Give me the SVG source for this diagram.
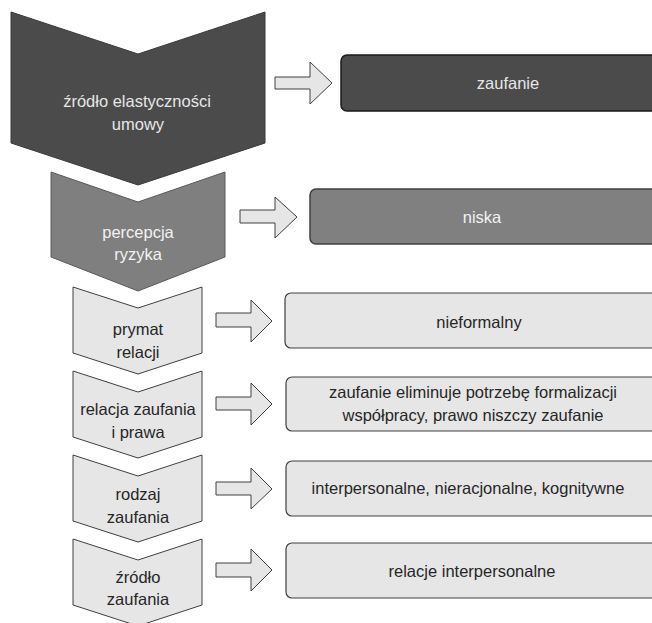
<svg xmlns="http://www.w3.org/2000/svg" width="652" height="623" viewBox="0 0 652 623">
<style>
text{font-family:"Liberation Sans",Arial,sans-serif;font-size:16.5px;text-anchor:middle;dominant-baseline:central}
.dark{fill:#4b4b4b;stroke:#3a3a3a;stroke-width:1}
.mid{fill:#7f7f7f;stroke:#5a5a5a;stroke-width:1}
.light{fill:#e6e6e6;stroke:#404040;stroke-width:1}
.bdark{fill:#4b4b4b;stroke:#1a1a1a;stroke-width:1.5}
.bmid{fill:#808080;stroke:#404040;stroke-width:1.5}
.blight{fill:#e6e6e6;stroke:#404040;stroke-width:1.2}
.arr{fill:#e6e6e6;stroke:#404040;stroke-width:1}
.tl{fill:#e6e6e6}
.tm{fill:#f2f2f2}
.td{fill:#262626}
</style>
<g id="connectors">
<path class="arr" d="M275,77 H310 V62 L332,83 L310,104 V89 H275 Z"/>
<path class="arr" d="M240,210 H275 V197 L297,217 L275,238 V223 H240 Z"/>
<path class="arr" d="M216,313 H251 V300 L272,321 L251,342 V327 H216 Z"/>
<path class="arr" d="M216,397 H251 V383 L272,404 L251,425 V410 H216 Z"/>
<path class="arr" d="M216,482 H251 V468 L272,489 L251,509 V495 H216 Z"/>
<path class="arr" d="M216,563 H251 V549 L272,570 L251,591 V577 H216 Z"/>
</g>
<g id="step1">
<path class="dark" d="M11,12 L138,54 L265,12 V143 L138,185 L11,143 Z"/>
<text class="tl" x="137" y="101">źródło elastyczności</text>
<text class="tl" x="138" y="124">umowy</text>
</g>
<g id="step2">
<path class="mid" d="M51,172 L138,202 L225,172 V257 L138,291 L51,257 Z"/>
<text class="tm" x="138" y="232">percepcja</text>
<text class="tm" x="138" y="254">ryzyka</text>
</g>
<g id="step3">
<path class="light" d="M73,287 L138,308 L202,287 V353 L138,374 L73,353 Z"/>
<text class="td" x="138" y="329">prymat</text>
<text class="td" x="138" y="352">relacji</text>
</g>
<g id="step4">
<path class="light" d="M73,371 L138,392 L202,371 V437 L138,458 L73,437 Z"/>
<text class="td" x="138" y="409">relacja zaufania</text>
<text class="td" x="138" y="432">i prawa</text>
</g>
<g id="step5">
<path class="light" d="M73,455 L138,476 L202,455 V521 L138,542 L73,521 Z"/>
<text class="td" x="138" y="494">rodzaj</text>
<text class="td" x="138" y="517">zaufania</text>
</g>
<g id="step6">
<path class="light" d="M73,539 L138,560 L202,539 V605 L138,626 L73,605 Z"/>
<text class="td" x="138" y="577">źródło</text>
<text class="td" x="138" y="599">zaufania</text>
</g>
<g id="box1">
<rect class="bdark" x="341" y="55" width="340" height="56" rx="6"/>
<text class="tl" x="508" y="83">zaufanie</text>
</g>
<g id="box2">
<rect class="bmid" x="310" y="189" width="370" height="55" rx="6"/>
<text class="tm" x="482" y="217">niska</text>
</g>
<g id="box3">
<rect class="blight" x="285" y="293" width="395" height="55" rx="6"/>
<text class="td" x="479" y="322">nieformalny</text>
</g>
<g id="box4">
<rect class="blight" x="286" y="377" width="394" height="54" rx="6"/>
<text class="td" x="473" y="392">zaufanie eliminuje potrzebę formalizacji</text>
<text class="td" x="473" y="415">współpracy, prawo niszczy zaufanie</text>
</g>
<g id="box5">
<rect class="blight" x="286" y="461" width="394" height="55" rx="6"/>
<text class="td" x="468" y="488">interpersonalne, nieracjonalne, kognitywne</text>
</g>
<g id="box6">
<rect class="blight" x="286" y="543" width="394" height="55" rx="6"/>
<text class="td" x="472" y="571">relacje interpersonalne</text>
</g>
</svg>
